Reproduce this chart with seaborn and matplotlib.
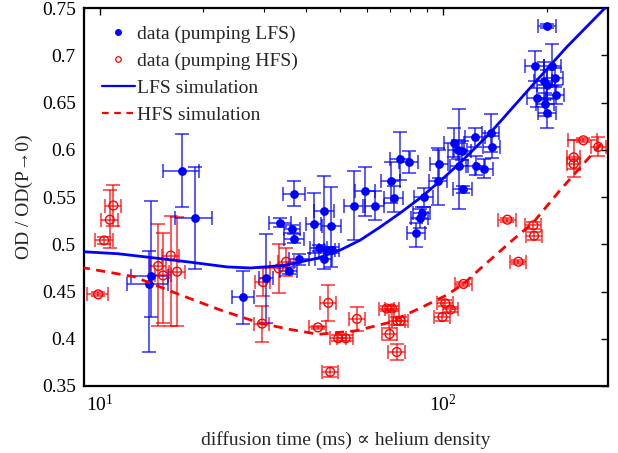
import matplotlib
matplotlib.use("Agg")
import matplotlib.pyplot as plt
import seaborn as sns
import numpy as np
import pandas as pd
from matplotlib.lines import Line2D
from matplotlib.ticker import FuncFormatter, LogLocator, NullFormatter, FixedLocator

# ---------------- data ----------------
# LFS data (pumping LFS): x (ms), y, y-error low, y-error high, x-error
lfs_x = [13.9, 14.1, 17.4, 18.9, 26.2, 30.5, 33.6, 35.5, 36.3, 36.8, 36.9, 38.1,
         42.0, 43.4, 44.9, 45.1, 45.9, 47.3, 47.4, 55.0, 59.3, 63.4, 70.6, 71.9,
         75.0, 79.3, 83.4, 86.7, 85.5, 87.7, 96.9, 97.5, 107.8, 110.1, 111.5, 113.8,
         114.0, 124.0, 124.5, 131.8, 137.6, 138.4, 201, 185, 208, 212, 196, 200,
         187, 213, 198, 201]
lfs_y = [0.458, 0.466, 0.578, 0.528, 0.444, 0.464, 0.523, 0.472, 0.516, 0.5535, 0.506, 0.484,
         0.521, 0.496, 0.484, 0.5355, 0.494, 0.519, 0.494, 0.541, 0.556, 0.541, 0.567, 0.549,
         0.5905, 0.587, 0.512, 0.533, 0.5275, 0.5497, 0.567, 0.585, 0.6075, 0.600, 0.583, 0.599,
         0.558, 0.613, 0.583, 0.580, 0.618, 0.603, 0.731, 0.689, 0.689, 0.676, 0.673, 0.669,
         0.655, 0.658, 0.648, 0.639]
lfs_ylo = [0.072, 0.043, 0.039, 0.054, 0.028, 0.047, 0.005, 0.004, 0.004, 0.013, 0.005, 0.006,
           0.030, 0.003, 0.010, 0.039, 0.003, 0.043, 0.003, 0.036, 0.026, 0.015, 0.023, 0.015,
           0.022, 0.012, 0.015, 0.006, 0.010, 0.010, 0.025, 0.015, 0.015, 0.010, 0.046, 0.010,
           0.004, 0.010, 0.010, 0.010, 0.020, 0.012, 0.002, 0.016, 0.022, 0.010, 0.020, 0.015,
           0.010, 0.010, 0.012, 0.016]
lfs_yhi = [0.035, 0.080, 0.039, 0.054, 0.028, 0.047, 0.005, 0.004, 0.004, 0.013, 0.005, 0.006,
           0.033, 0.003, 0.010, 0.037, 0.003, 0.042, 0.003, 0.036, 0.026, 0.015, 0.020, 0.013,
           0.028, 0.012, 0.010, 0.006, 0.010, 0.010, 0.035, 0.015, 0.015, 0.010, 0.060, 0.010,
           0.004, 0.010, 0.010, 0.010, 0.020, 0.012, 0.002, 0.016, 0.023, 0.010, 0.020, 0.015,
           0.010, 0.010, 0.012, 0.016]
lfs_xerr = [1.9, 1.75, 2.1, 2.3, 2.0, 1.5, 2.5, 2.0, 2.0, 2.7, 2.5, 2.6,
            2.0, 2.5, 2.5, 3.0, 2.5, 3.0, 2.5, 3.5, 4.0, 4.0, 4.5, 4.5,
            5.0, 5.0, 5.0, 5.0, 5.0, 5.5, 6.0, 6.0, 7.0, 7.0, 7.0, 7.0,
            7.0, 8.0, 8.0, 8.0, 8.0, 8.0, 12, 12, 12, 12, 12, 12,
            12, 12, 12, 12]

# HFS data (pumping HFS)
hfs_x = [9.9, 10.3, 10.7, 10.96, 14.8, 15.3, 16.1, 16.8, 29.7, 29.9, 33.2, 34.9,
         43.2, 46.3, 46.9, 49.5, 52.0, 56.1, 68.5, 71.0, 69.8, 73.5, 75.0, 73.3,
         99.5, 101.4, 105.2, 114.6, 153.8, 165.6, 183, 184, 240, 240, 256, 283]
hfs_y = [0.447, 0.504, 0.526, 0.541, 0.477, 0.467, 0.488, 0.471, 0.416, 0.460, 0.4745, 0.4815,
         0.412, 0.438, 0.365, 0.4005, 0.4005, 0.421, 0.432, 0.432, 0.405, 0.419, 0.419, 0.386,
         0.423, 0.4375, 0.431, 0.458, 0.526, 0.4815, 0.520, 0.509, 0.592, 0.585, 0.610, 0.603]
hfs_ylo = [0.002, 0.004, 0.030, 0.022, 0.064, 0.050, 0.075, 0.058, 0.019, 0.015, 0.026, 0.015,
           0.002, 0.019, 0.005, 0.003, 0.003, 0.0125, 0.003, 0.003, 0.006, 0.004, 0.004, 0.008,
           0.004, 0.003, 0.003, 0.002, 0.002, 0.002, 0.004, 0.004, 0.021, 0.005, 0.002, 0.010]
hfs_yhi = [0.002, 0.004, 0.031, 0.022, 0.044, 0.045, 0.042, 0.058, 0.019, 0.015, 0.026, 0.015,
           0.002, 0.019, 0.005, 0.003, 0.003, 0.0125, 0.003, 0.003, 0.006, 0.004, 0.004, 0.008,
           0.004, 0.003, 0.003, 0.002, 0.002, 0.002, 0.004, 0.004, 0.018, 0.005, 0.002, 0.010]
hfs_xerr = [0.7, 0.6, 0.6, 0.6, 0.8, 0.8, 0.9, 0.9, 1.5, 1.5, 1.8, 1.8,
            2.5, 2.5, 2.5, 2.8, 2.8, 3.0, 3.5, 3.5, 3.5, 4.0, 4.0, 4.0,
            5.5, 5.5, 5.5, 6.5, 9.0, 9.0, 10, 10, 11, 11, 25, 14]

# simulation curves
lfs_sim_x = [9.04, 11.28, 14.06, 18.39, 23.5, 27.48, 34.27, 42.95, 50.2, 57.37, 65.6,
             75.0, 85.7, 98.0, 112, 137, 179, 229, 296]
lfs_sim_y = [0.492, 0.490, 0.486, 0.481, 0.476, 0.4749, 0.4775, 0.4851, 0.4939, 0.5044, 0.5183,
             0.5331, 0.5489, 0.5669, 0.5860, 0.6177, 0.6653, 0.7087, 0.750]
hfs_sim_x = [8.81, 12.58, 17.2, 22.47, 29.38, 35.92, 43.41, 55.49, 69.34, 86.7, 102.5,
             114.6, 128.1, 160.0, 183.0, 218.8, 292.4]
hfs_sim_y = [0.4756, 0.4657, 0.4463, 0.4304, 0.4164, 0.4098, 0.4047, 0.4083, 0.4170, 0.4333, 0.4463,
             0.4580, 0.4740, 0.5050, 0.5230, 0.5570, 0.6085]

legend_labels = ["data (pumping LFS)", "data (pumping HFS)", "LFS simulation", "HFS simulation"]
x_label = "diffusion time (ms) \u221d helium density"
y_label = "OD / OD(P\u21920)"

# ---------------- style ----------------
sns.set_theme(style="white")
plt.rcParams["font.family"] = ["Liberation Serif", "DejaVu Serif"]
plt.rcParams["mathtext.fontset"] = "custom"
plt.rcParams["mathtext.rm"] = "Liberation Serif"
plt.rcParams["mathtext.it"] = "Liberation Serif:italic"

BLUE = (0, 0, 1)
RED = (1, 0, 0)

fig = plt.figure(figsize=(6.18, 4.53), dpi=100)
ax = fig.add_axes([84 / 618, 1 - 386 / 453, (608 - 84) / 618, (386 - 8) / 453])

lfs = pd.DataFrame({"x": lfs_x, "y": lfs_y})
hfs = pd.DataFrame({"x": hfs_x, "y": hfs_y})

# error bars
ax.errorbar(hfs_x, hfs_y, yerr=[hfs_ylo, hfs_yhi], xerr=hfs_xerr, fmt="none",
            ecolor=RED, elinewidth=1.2, capsize=5, capthick=1.2, alpha=0.75, zorder=2)
ax.errorbar(lfs_x, lfs_y, yerr=[lfs_ylo, lfs_yhi], xerr=lfs_xerr, fmt="none",
            ecolor=BLUE, elinewidth=1.2, capsize=5, capthick=1.2, alpha=0.75, zorder=2)

# points
sns.scatterplot(data=hfs, x="x", y="y", ax=ax, marker="o", s=40, facecolor="none",
                edgecolor=RED, linewidth=1.0, zorder=3, legend=False)
sns.scatterplot(data=lfs, x="x", y="y", ax=ax, marker="o", s=40, color=BLUE,
                edgecolor=BLUE, linewidth=0, zorder=4, legend=False)

# simulations
sns.lineplot(x=lfs_sim_x, y=lfs_sim_y, ax=ax, color=BLUE, linewidth=2.0, zorder=5)
sns.lineplot(x=hfs_sim_x, y=hfs_sim_y, ax=ax, color=RED, linewidth=2.0, zorder=5,
             linestyle=(0, (3.3, 2.3)))

ax.set_xscale("log")
ax.set_xlim(9.0, 302)
ax.set_ylim(0.35, 0.75)

ax.xaxis.set_major_locator(FixedLocator([10, 100]))
ax.xaxis.set_major_formatter(FuncFormatter(lambda v, p: r"$10^{%d}$" % int(round(np.log10(v)))))
ax.xaxis.set_minor_locator(LogLocator(base=10, subs=np.arange(2, 10)))
ax.xaxis.set_minor_formatter(NullFormatter())
ax.set_yticks(np.arange(0.35, 0.751, 0.05))
ax.yaxis.set_major_formatter(FuncFormatter(lambda v, p: "%g" % round(v, 2)))

ax.tick_params(axis="both", which="both", direction="in", top=True, right=True,
               labelsize=14, colors="black")
ax.tick_params(axis="both", which="major", length=5, width=1.0, pad=6)
ax.tick_params(axis="x", which="minor", length=3, width=0.8)
for sp in ax.spines.values():
    sp.set_linewidth(1.6)
    sp.set_color("black")

ax.set_xlabel(x_label, fontsize=14, labelpad=11)
ax.set_ylabel(y_label, fontsize=14, labelpad=6)

handles = [
    Line2D([], [], linestyle="none", marker="o", markersize=4, color=BLUE),
    Line2D([], [], linestyle="none", marker="o", markersize=4, markerfacecolor="none",
           markeredgecolor=RED, markeredgewidth=0.9),
    Line2D([], [], color=BLUE, linewidth=1.6),
    Line2D([], [], color=RED, linewidth=1.6, linestyle=(0, (3, 2.5))),
]
ax.legend(handles, legend_labels, loc="upper left", frameon=False, fontsize=14,
          handlelength=1.7, handletextpad=0.15, labelspacing=0.48,
          borderaxespad=0.4, borderpad=0.5)

fig.savefig("out.png", dpi=100)
